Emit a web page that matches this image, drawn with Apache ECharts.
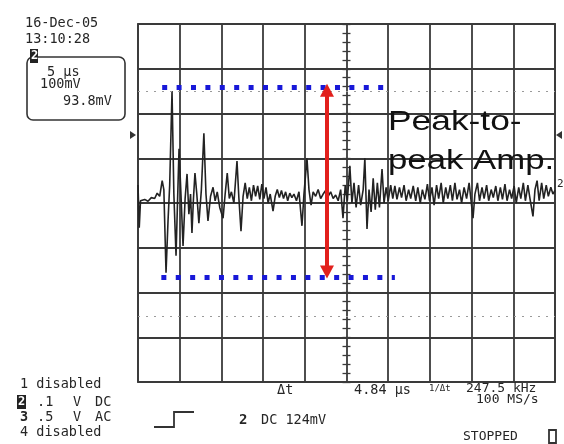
<!DOCTYPE html>
<html>
<head>
    <meta charset="utf-8">
    <title>Peak-to-peak Amp.</title>
    <script src="https://cdn.jsdelivr.net/npm/echarts/dist/echarts.min.js"></script>
    <style>
        body { margin: 0; background: #fff; }
    </style>
</head>
<body>
<div id="chart-container" style="width: 564px; height: 444px;"></div>
<script>
    // time of each sample, us (5 us / div, 10 div)
    var timeUs = [
        0, 0.15, 0.3, 0.8, 1.2, 1.6, 2.0, 2.3, 2.6, 2.9,
        3.1, 3.36, 3.6, 3.8, 4.08, 4.3, 4.56, 4.75, 4.92, 5.15,
        5.4, 5.65, 5.88, 6.1, 6.3, 6.47, 6.65, 6.83, 7.05, 7.3,
        7.6, 7.9, 8.15, 8.39, 8.7, 9.0, 9.25, 9.5, 9.8, 10.2,
        10.45, 10.7, 10.95, 11.2, 11.5, 11.87, 12.1, 12.35, 12.6, 12.85,
        13.1, 13.35, 13.6, 13.85, 14.1, 14.35, 14.6, 14.85, 15.1, 15.35,
        15.6, 15.85, 16.19, 16.45, 16.7, 16.95, 17.2, 17.45, 17.7, 17.95,
        18.2, 18.45, 18.7, 19.0, 19.3, 19.66, 19.9, 20.26, 20.5, 20.75,
        21.0, 21.3, 21.6, 21.9, 22.2, 22.5, 22.8, 23.1, 23.4, 23.7,
        24.0, 24.3, 24.58, 24.85, 25.1, 25.4, 25.65, 25.9, 26.15, 26.45,
        26.7, 27.0, 27.2, 27.46, 27.7, 27.95, 28.2, 28.45, 28.7, 28.95,
        29.26, 29.5, 29.75, 30.0, 30.3, 30.55, 30.8, 31.05, 31.35, 31.6,
        31.9, 32.15, 32.45, 32.7, 33.0, 33.3, 33.55, 33.85, 34.1, 34.4,
        34.7, 34.95, 35.25, 35.5, 35.8, 36.05, 36.35, 36.6, 36.9, 37.15,
        37.45, 37.7, 38.0, 38.25, 38.55, 38.8, 39.1, 39.4, 39.7, 40.17,
        40.4, 40.7, 40.95, 41.25, 41.5, 41.8, 42.05, 42.35, 42.6, 42.9,
        43.15, 43.45, 43.7, 44.0, 44.25, 44.55, 44.8, 45.1, 45.35, 45.65,
        45.9, 46.2, 46.45, 46.75, 47.0, 47.36, 47.6, 47.85, 48.1, 48.4,
        48.65, 48.95, 49.2, 49.5, 49.75, 50.0
    ];
    // channel 2 trace, mV (100 mV / div)
    var ch2mV = [
        40, -55, 5, 8, 4, 12, 10, 22, 15, 50,
        30, -156, -40, 40, 250, 20, -118, 10, 121, 20,
        -96, 10, 65, -25, 20, -67, 10, 67, 20, -45,
        30, 156, 20, -40, 15, 35, 5, 25, -10, -34,
        20, 67, 10, 25, 0, 94, 10, -63, 15, 45,
        10, 35, 5, 40, 15, 38, 8, 42, 10, 35,
        0, 20, -18, 15, 30, 12, 28, 10, 25, 5,
        22, 12, 20, 5, 25, -51, 20, 100, 30, -5,
        25, 15, 30, 10, 20, 28, 15, 25, 10, 18,
        5, 30, -34, 40, 5, 83, 0, 45, -10, 40,
        -5, 30, 100, -58, 30, -20, 55, -15, 45, -10,
        76, 0, 35, 5, 40, 10, 38, 8, 35, 12,
        40, 5, 30, 10, 38, 5, 35, 0, 30, 8,
        42, 5, 35, -5, 40, 10, 45, 0, 35, 10,
        40, 5, 45, 8, 30, 0, 35, 10, 45, -34,
        20, 45, 5, 35, 10, 40, 5, 30, 12, 38,
        5, 35, 8, 42, 5, 30, 10, 38, 0, 35,
        10, 45, 5, 40, 10, -30, 30, 50, 5, 45,
        10, 40, 15, 35, 20, 28
    ];
    // blue peak markers: level (mV), start and end time (us)
    var peakTop = [259, 2.9, 30.0];
    var peakBottom = [-165, 2.8, 30.8];
    // red arrow: time, top, bottom
    var arrowSpan = [22.66, 252, -154];
    // grey cursor lines (mV)
    var cursorLevels = [250, -253];

    var gridColor = '#3a3a3a';
    var mono = 'DejaVu Sans Mono';

    var traceData = timeUs.map(function (t, i) { return [t, ch2mV[i]]; });

    function centreAxis(inside) {
        return {
            type: 'value', min: -400, max: 400, interval: 100,
            position: 'left', offset: -208.5,
            axisLine: { show: false }, axisLabel: { show: false }, splitLine: { show: false },
            axisTick: { show: true, inside: inside, length: 4, lineStyle: { color: gridColor, width: 1.3 } },
            minorTick: { show: true, splitNumber: 5, length: 4, lineStyle: { color: gridColor, width: 1.3 } }
        };
    }

    function txt(x, y, s, size, extra) {
        var st = { text: s, fontFamily: mono, fontSize: size || 13, fill: '#262626',
                   textAlign: 'left', textVerticalAlign: 'middle' };
        if (extra) { for (var k in extra) st[k] = extra[k]; }
        return { type: 'text', x: x, y: y, style: st, z: 10 };
    }

    var option1 = {
        animation: false,
        backgroundColor: '#fff',
        grid: { left: 138, top: 24, width: 417, height: 358, show: true,
                borderColor: gridColor, borderWidth: 1.8 },
        xAxis: [{
            type: 'value', min: 0, max: 50, interval: 5,
            axisLine: { show: false }, axisTick: { show: false }, axisLabel: { show: false },
            splitLine: { lineStyle: { color: gridColor, width: 1.8 } }
        }],
        yAxis: [{
            type: 'value', min: -400, max: 400, interval: 100,
            axisLine: { show: false }, axisTick: { show: false }, axisLabel: { show: false },
            splitLine: { lineStyle: { color: gridColor, width: 1.8 } }
        }, centreAxis(true), centreAxis(false)],
        series: [
            {
                name: 'cursors', type: 'line', data: [], silent: true,
                markLine: {
                    silent: true, symbol: 'none', label: { show: false },
                    lineStyle: { color: '#9a9a9a', width: 1, type: [2, 6] },
                    data: cursorLevels.map(function (v) { return { yAxis: v }; })
                }
            },
            {
                name: 'CH2', type: 'line', data: traceData, showSymbol: false,
                lineStyle: { color: '#222', width: 1.6 }, z: 3
            },
            {
                name: 'peaks', type: 'line', data: [], silent: true, z: 4,
                markLine: {
                    silent: true, symbol: 'none', label: { show: false },
                    lineStyle: { color: '#1818d8', width: 5, type: [5, 9.4], opacity: 1 },
                    data: [
                        [{ coord: [peakTop[1], peakTop[0]] }, { coord: [peakTop[2], peakTop[0]] }],
                        [{ coord: [peakBottom[1], peakBottom[0]] }, { coord: [peakBottom[2], peakBottom[0]] }]
                    ]
                }
            },
            {
                name: 'arrow', type: 'line', data: [], silent: true, z: 5,
                markLine: {
                    silent: true, symbol: ['triangle', 'triangle'], symbolSize: [14, 13],
                    label: { show: false },
                    lineStyle: { color: '#e2201c', width: 4, type: 'solid', opacity: 1 },
                    itemStyle: { color: '#e2201c' },
                    data: [[{ coord: [arrowSpan[0], arrowSpan[1]] }, { coord: [arrowSpan[0], arrowSpan[2]] }]]
                }
            }
        ],
        graphic: [
            txt(25, 23, '16-Dec-05', 13.5),
            txt(25, 39, '13:10:28', 13.5),
            { type: 'rect', shape: { x: 27, y: 57, width: 98, height: 63, r: 6 },
              style: { fill: 'none', stroke: '#333', lineWidth: 1.6 }, z: 9 },
            { type: 'rect', shape: { x: 30, y: 49, width: 8, height: 14 },
              style: { fill: '#222' }, z: 10 },
            txt(31, 56, '2', 12, { fill: '#fff', fontWeight: 'bold' }),
            txt(47, 72, '5 µs', 13.5),
            txt(40, 84, '100mV', 13.5),
            txt(63, 101, '93.8mV', 13.5),

            txt(20, 384, '1 disabled', 13.5),
            { type: 'rect', shape: { x: 17, y: 395, width: 9, height: 14 },
              style: { fill: '#222' }, z: 10 },
            txt(18, 402, '2', 12, { fill: '#fff', fontWeight: 'bold' }),
            txt(37, 402, '.1', 13.5), txt(73, 402, 'V', 13.5), txt(95, 402, 'DC', 13.5),
            txt(20, 417, '3', 13.5, { fontWeight: 'bold' }),
            txt(37, 417, '.5', 13.5), txt(73, 417, 'V', 13.5), txt(95, 417, 'AC', 13.5),
            txt(20, 432, '4 disabled', 13.5),

            { type: 'polyline', shape: { points: [[154, 427], [174, 427], [174, 412], [194, 412]] },
              style: { stroke: '#333', lineWidth: 1.8, fill: 'none' }, z: 10 },
            txt(239, 420, '2', 14, { fontWeight: 'bold' }),
            txt(261, 420, 'DC 124mV', 13.5),
            txt(277, 390, 'Δt', 13.5),
            txt(354, 390, '4.84 µs', 13.5),
            txt(429, 389, '1/Δt', 9),
            txt(466, 389, '247.5 kHz', 13),
            txt(476, 400, '100 MS/s', 13),
            txt(463, 437, 'STOPPED', 13),
            { type: 'rect', shape: { x: 549, y: 430, width: 7, height: 13 },
              style: { fill: 'none', stroke: '#333', lineWidth: 1.8 }, z: 10 },

            txt(557, 184, '2', 11),
            { type: 'polygon', shape: { points: [[130, 131], [136, 135], [130, 139]] },
              style: { fill: '#333' }, z: 10 },
            { type: 'polygon', shape: { points: [[562, 131], [556, 135], [562, 139]] },
              style: { fill: '#333' }, z: 10 },

            { type: 'text', x: 388, y: 122, scaleX: 1.24, z: 10,
              style: { text: 'Peak-to-', fontFamily: 'Liberation Sans', fontSize: 28.5,
                       fill: '#111', textAlign: 'left', textVerticalAlign: 'middle' } },
            { type: 'text', x: 388, y: 161, scaleX: 1.22, z: 10,
              style: { text: 'peak Amp.', fontFamily: 'Liberation Sans', fontSize: 28.5,
                       fill: '#111', textAlign: 'left', textVerticalAlign: 'middle' } }
        ]
    };

    var chart = echarts.init(document.getElementById('chart-container'));
    chart.setOption(option1);
</script>
</body>
</html>
